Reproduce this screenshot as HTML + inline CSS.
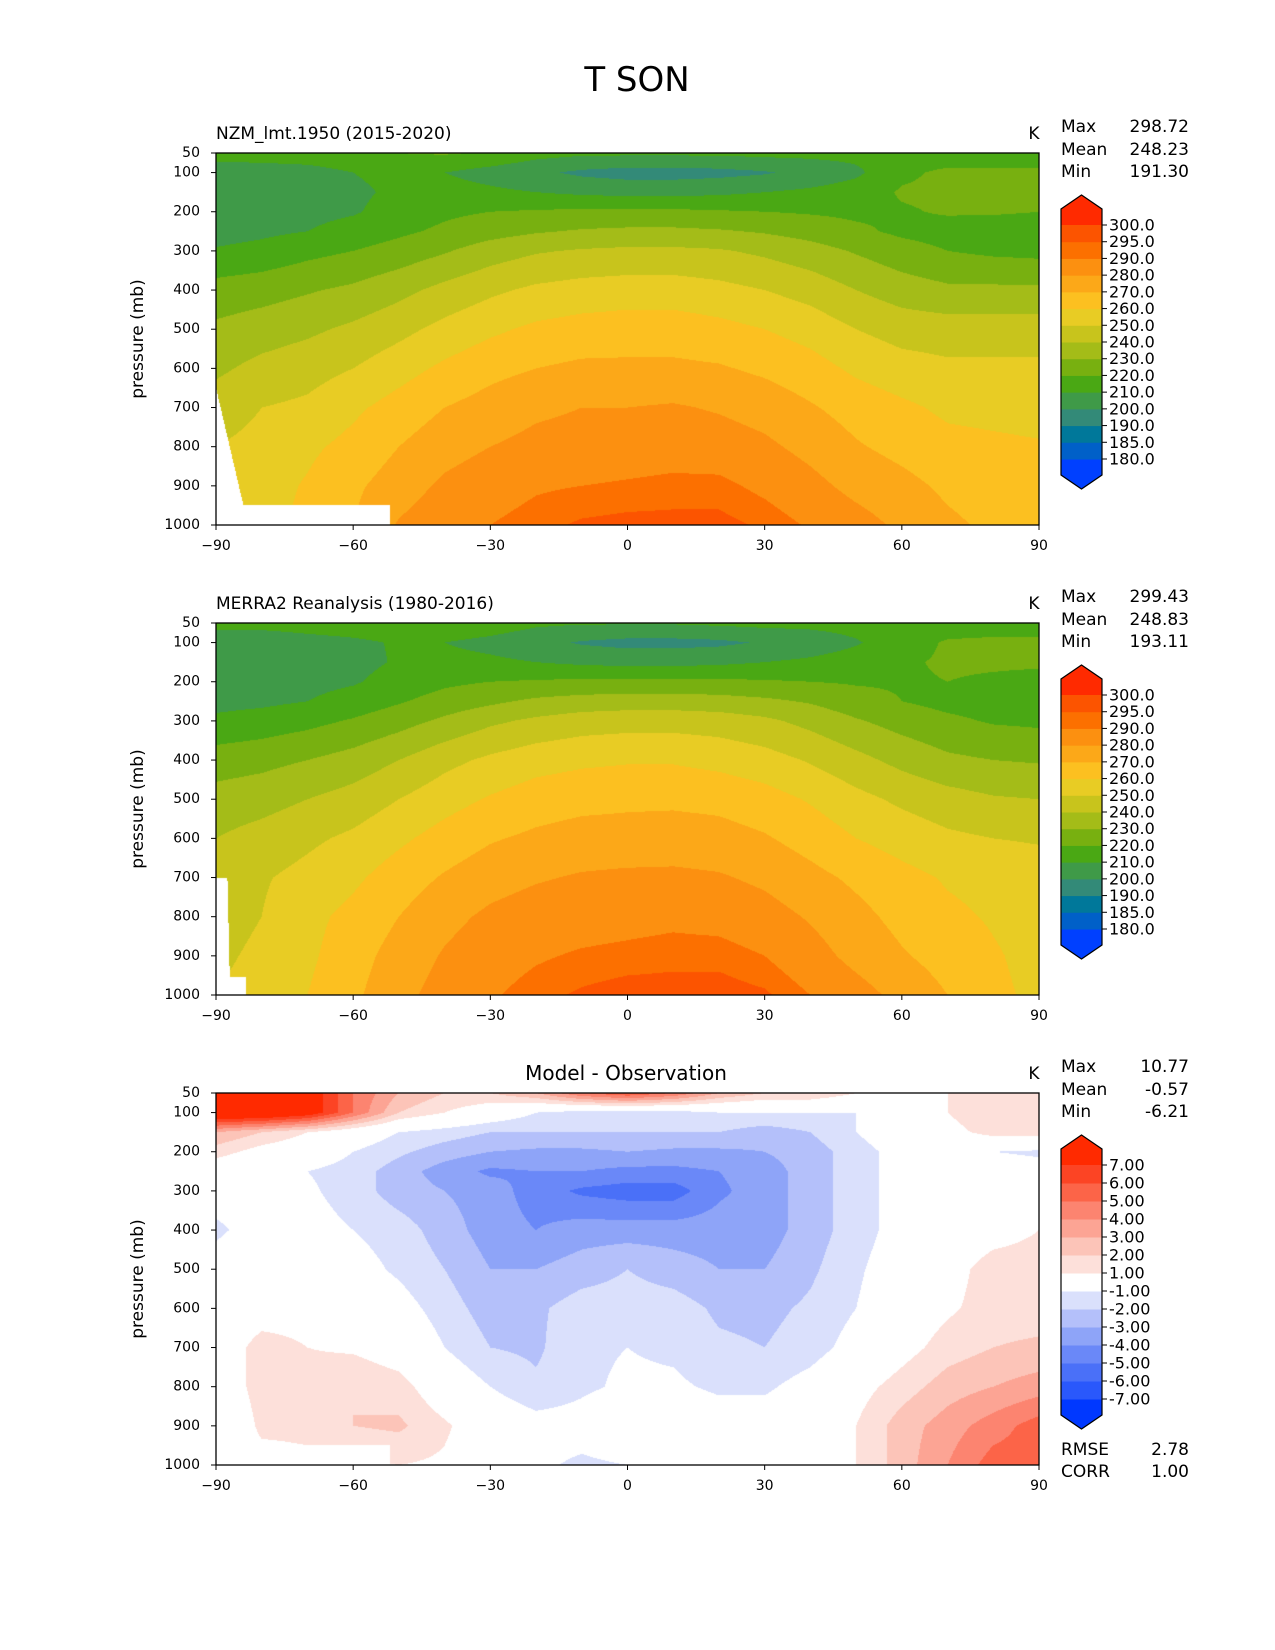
<!DOCTYPE html>
<html><head><meta charset="utf-8">
<style>
body{margin:0;background:#fff;}
#root{position:relative;width:1275px;height:1650px;overflow:hidden;background:#fff;font-family:"DejaVu Sans","Liberation Sans",sans-serif;}
canvas{position:absolute;}
svg{position:absolute;left:0;top:0;}
</style></head>
<body>
<div id="root">
<canvas id="c0"></canvas>
<canvas id="c1"></canvas>
<canvas id="c2"></canvas>
<svg id="ov" width="1275" height="1650"></svg>
</div>
<script>
const lats = [-90,-80,-70,-60,-50,-40,-30,-20,-10,0,10,20,30,40,50,60,70,80,90];
const pressures = [50,100,150,200,250,300,400,500,600,700,800,900,1000];
const modelT = [
[214,215,216,218,220,221,219,214,212,212,212,212,213,213,213,214,214,214,214],
[205,205,206,210,213,210,206,202,198,196,196,197,199,203,208,218,222,222,222],
[203,203,205,208,212,214,212,210,208,207,207,208,210,212,215,221,222,222,221],
[204,204,207,209,214,218,220,221,222,222,222,221,220,219,218,219,221,221,220],
[206,208,210,214,218,222,226,229,231,232,232,231,229,226,222,218,216,215,215],
[211,213,217,220,224,229,235,239,241,242,242,241,238,234,229,224,220,218,217],
[224,226,229,232,237,243,248,252,254,255,255,253,250,246,240,235,232,232,232],
[232,235,238,242,247,253,258,262,264,265,265,263,260,256,250,246,245,245,245],
[238,243,246,250,256,262,267,270,272,272,272,271,268,264,258,254,252,252,252],
[245,250,252,258,264,270,274,278,280,280,281,279,276,271,266,262,258,257,256],
[250,253,258,263,270,276,280,283,284,285,286,285,282,277,271,267,263,262,261],
[253,256,261,268,275,282,286,289,290,291,292,292,288,283,277,273,268,265,264],
[255,258,262,270,281,287,290,293,296,297,297,297,294,289,284,278,272,268,266]
];
const obsT = [
[214,214,215,216,217,218,216,212,211,211,211,212,213,213,214,215,215,215,215],
[202,203,206,208,211,210,207,203,199,197,197,198,201,204,209,216,221,222,222],
[201,202,205,207,211,213,212,210,208,207,207,208,210,212,215,219,221,221,221],
[204,205,207,209,214,218,220,221,222,222,222,222,221,220,219,219,220,219,218],
[207,208,210,214,219,224,228,232,234,235,235,234,232,229,224,220,217,216,215],
[212,214,217,221,226,232,238,242,245,246,246,245,242,237,231,226,222,219,218],
[225,227,230,234,240,247,252,256,258,259,259,257,254,249,243,237,232,230,229],
[234,236,240,244,250,256,261,265,267,268,268,267,264,259,253,248,244,241,240],
[240,244,248,252,258,264,269,272,274,274,275,274,271,266,260,256,252,250,249],
[244,249,253,258,265,271,276,279,281,282,282,281,278,273,268,263,259,257,255],
[246,250,257,263,270,277,282,285,286,287,288,287,284,279,273,267,262,259,256],
[248,252,258,266,274,281,286,289,291,292,293,293,290,284,277,271,266,261,257],
[250,254,260,268,277,284,289,293,296,298,298,298,296,290,284,277,270,262,258]
];
const diffT = [
[9,9,8,5,3,2,2,3,5,6,5,3,2,2,1,1,1,1.2,1.5],
[9,9,8,5,2,1,0,-1,-1.5,-1.5,-1.5,-1,-1,-1,-1,0,1,2,2],
[3,2,1,0,-1,-1.5,-2,-2,-2,-2,-2,-2,-2.5,-2,-1,0,0.5,1.5,1.5],
[1.5,0.5,0,-1,-1.8,-2.5,-3,-3.2,-3.2,-3,-3.2,-3.2,-3,-2.5,-1.5,-0.5,-0.5,-1,-1.2],
[0,-0.5,-1,-1.5,-2.5,-3.5,-4.2,-4,-4,-4.3,-4.3,-4,-3.5,-2.5,-1.5,-0.5,-0.2,-0.2,-0.5],
[-0.5,-0.5,-0.8,-1.5,-2.5,-3,-3.5,-4.5,-5.2,-5.5,-5.5,-4.2,-3.5,-2.5,-1.5,-0.5,0,0,0],
[-1.2,-0.5,-0.5,-1,-1.5,-2.5,-3.5,-4,-3.5,-3.5,-3.5,-3.5,-3.5,-2.5,-1.5,-0.5,0,0.5,1],
[-0.5,0,-0.3,-0.5,-1.2,-2,-3,-3,-2.5,-2,-2.5,-3,-3,-2.2,-1.2,-0.2,0.5,1.5,1.5],
[0,0.3,0.5,0,-0.5,-1.5,-2.5,-2.2,-1.5,-1.5,-1.5,-2.2,-2.3,-1.8,-1,0,0.8,1.5,1.5],
[0,1.5,1,0.8,0.2,-1,-2,-2.2,-1.2,-1,-1.2,-1.8,-2,-1.5,-0.5,0.5,1.5,2,2.2],
[-1,2,1.5,2,1.5,0,-1,-1.8,-1.2,-0.8,-0.8,-1.2,-1.2,-0.5,0.5,1.5,2.5,3,3.5],
[-2,1.5,1.5,2,2.2,1.2,0,-0.5,-0.5,0,0,-0.3,-0.3,0.2,1,2.5,3.5,4.5,5.5],
[0,0,0.5,0.8,1,0.8,0,-0.8,-1.2,-1,-0.5,-0.8,0,0.5,1,2.5,4,5.5,5.5]
];
const tLevels = [180,185,190,200,210,220,230,240,250,260,270,280,290,295,300];
const tColors = ["#0040ff","#0060c8","#00789a","#338a78","#3f9a48","#4aa814","#78b010","#a4bc18","#c8c41c","#e8cc24","#fcc020","#fca818","#fc9010","#fc7000","#fc5400","#ff2a00"];
const dLevels = [-7,-6,-5,-4,-3,-2,-1,1,2,3,4,5,6,7];
const dColors = ["#0038ff","#2a58fb","#4a70f8","#6a88f8","#8ea4f8","#b4c0fa","#dae0fc","#ffffff","#fde0da","#fcc4b8","#fca494","#fc8470","#fc6448","#fc4424","#ff2a00"];
const xTicks = [-90,-60,-30,0,30,60,90];
const yTicks = [50,100,200,300,400,500,600,700,800,900,1000];

const X0=216, X1=1039, H=372;
const tops=[153,623,1093];
const NS="http://www.w3.org/2000/svg";
const ov=document.getElementById('ov');
function xs(lat){return X0+(lat+90)/180*(X1-X0);}
function ys(top,p){return top+(p-50)/950*H;}
function mk(tag,attrs,parent){const e=document.createElementNS(NS,tag);for(const k in attrs)e.setAttribute(k,attrs[k]);(parent||ov).appendChild(e);return e;}
function txt(x,y,s,size,anchor,name,extra){const t=mk('text',Object.assign({x:x,y:y,'font-size':size,'text-anchor':anchor||'start','dominant-baseline':'central',fill:'#000','font-family':'DejaVu Sans, Liberation Sans, sans-serif'},extra||{}));t.textContent=s;


return t;}
function hex(c){return [parseInt(c.substr(1,2),16),parseInt(c.substr(3,2),16),parseInt(c.substr(5,2),16)];}
function interp(grid,lat,p){
  let i=0;while(i<lats.length-2&&lat>lats[i+1])i++;
  let j=0;while(j<pressures.length-2&&p>pressures[j+1])j++;
  const fx=(lat-lats[i])/(lats[i+1]-lats[i]);
  const fy=(p-pressures[j])/(pressures[j+1]-pressures[j]);
  const a=grid[j][i],b=grid[j][i+1],c=grid[j+1][i],d=grid[j+1][i+1];
  return (a*(1-fx)+b*fx)*(1-fy)+(c*(1-fx)+d*fx)*fy;
}
function masked(k,lat,p){
  if(k===1){ if(p>700 && lat < -87.5+(p-700)/250*0.5) return true; if(p>955&&lat<-83.5)return true; return false;}
  if(p>650 && lat < -90+(p-650)/300*6) return true;
  if(p>950 && lat < -52) return true;
  return false;
}
function levelIdx(v,levels){let k=0;while(k<levels.length&&v>=levels[k])k++;return k;}
const fields=[modelT,obsT,diffT];
for(let k=0;k<3;k++){
  const cv=document.getElementById('c'+k);
  const W=X1-X0;cv.width=W;cv.height=H;cv.style.left=X0+'px';cv.style.top=tops[k]+'px';
  const ctx=cv.getContext('2d');const img=ctx.createImageData(W,H);
  const levels=k===2?dLevels:tLevels, cols=(k===2?dColors:tColors).map(hex);
  for(let y=0;y<H;y++){const p=50+(y+0.5)/H*950;
    for(let x=0;x<W;x++){const lat=-90+(x+0.5)/W*180;const o=(y*W+x)*4;
      let c;
      if(masked(k,lat,p)) c=[255,255,255];
      else c=cols[levelIdx(interp(fields[k],lat,p),levels)];
      img.data[o]=c[0];img.data[o+1]=c[1];img.data[o+2]=c[2];img.data[o+3]=255;}}
  ctx.putImageData(img,0,0);
}
txt(637,80,'T SON',34,'middle','figure-title');
const subt=['NZM_lmt.1950 (2015-2020)','MERRA2 Reanalysis (1980-2016)',''];
const stats=[['298.72','248.23','191.30'],['299.43','248.83','193.11'],['10.77','-0.57','-6.21']];
for(let k=0;k<3;k++){
  const top=tops[k],bot=top+H;
  const fr=mk('rect',{x:X0,y:top,width:X1-X0,height:H,fill:'none',stroke:'#000','stroke-width':1.3});
  
  
  for(const t of xTicks){const x=xs(t);mk('line',{x1:x,x2:x,y1:bot,y2:bot+5,stroke:'#000','stroke-width':1});
    txt(x,bot+21,t<0?'\u2212'+(-t):String(t),14,'middle','x-tick-label');}
  for(const p of yTicks){const y=ys(top,p);mk('line',{x1:X0-5,x2:X0,y1:y,y2:y,stroke:'#000','stroke-width':1});
    txt(200,y,String(p),14,'end','y-tick-label');}
  txt(138,top+H/2,'pressure (mb)',17,'middle','y-axis-title',{transform:'rotate(-90 138 '+(top+H/2)+')'});
  if(subt[k])txt(X0,top-19,subt[k],17,'start','panel-title');
  else txt(626,top-20,'Model - Observation',20,'middle','panel-title');
  txt(1034,top-19,'K',17,'middle','units-label');
  const sl=['Max','Mean','Min'],sy=[-26,-3,19];
  for(let i=0;i<3;i++){txt(1061,top+sy[i],sl[i],17,'start','stat-label');txt(1189,top+sy[i],stats[k][i],17,'end','stat-value');}
  const levels=k===2?dLevels:tLevels, cols=k===2?dColors:tColors;
  const bx0=1061,bx1=1102,bxm=(bx0+bx1)/2,bTop=top+72,bBot=top+306,n=levels.length,step=(bBot-bTop)/(n-1);
  const yb=i=>bBot-i*step;
  mk('polygon',{points:`${bx0},${top+56} ${bxm},${top+42} ${bx1},${top+56} ${bx1},${bTop} ${bx0},${bTop}`,fill:cols[n],stroke:'none'});
  mk('polygon',{points:`${bx0},${bBot} ${bx1},${bBot} ${bx1},${top+322} ${bxm},${top+336} ${bx0},${top+322}`,fill:cols[0],stroke:'none'});
  for(let i=0;i<n-1;i++){const r=mk('rect',{x:bx0,y:yb(i+1),width:bx1-bx0,height:step+0.5,fill:cols[i+1]});
    
    }
  mk('polygon',{points:`${bx0},${top+56} ${bxm},${top+42} ${bx1},${top+56} ${bx1},${top+322} ${bxm},${top+336} ${bx0},${top+322}`,fill:'none',stroke:'#000','stroke-width':1.2});
  for(let i=0;i<n;i++){const y=yb(i);mk('line',{x1:bx1,x2:bx1+5,y1:y,y2:y,stroke:'#000','stroke-width':1});
    txt(1109,y,k===2?levels[i].toFixed(2):levels[i].toFixed(1),16,'start','colorbar-tick-label');}
}
txt(1061,1450,'RMSE',17,'start','rmse-label');txt(1189,1450,'2.78',17,'end','rmse-value');
txt(1061,1472,'CORR',17,'start','corr-label');txt(1189,1472,'1.00',17,'end','corr-value');
</script>
</body></html>
